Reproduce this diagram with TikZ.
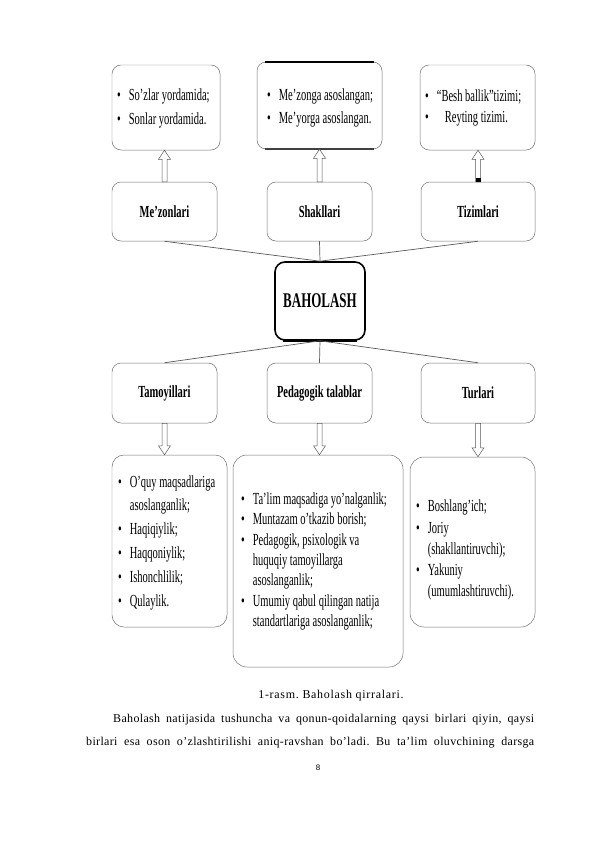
\documentclass[tikz,border=0pt]{standalone}
\usepackage{fontspec}
\setmainfont{Liberation Serif}
\newfontfamily\condfont[FakeStretch=0.62]{Liberation Serif}
\newfontfamily\bodyfont[LetterSpace=3]{Liberation Serif}
\newfontfamily\capfont[LetterSpace=6]{Liberation Serif}
\newfontfamily\pagefont{Liberation Sans}
\usepackage{tikz}
\usetikzlibrary{calc}
\frenchspacing

% bullet list inside a box
\newcommand{\itemlist}[2]{{\renewcommand{\arraystretch}{#1}%
  \begin{tabular}{@{}l@{\hspace{8bp}}l@{}}#2\end{tabular}}}
% hollow block arrow, tail #1, tip #2
\newcommand{\hollowarrow}[2]{%
  \draw[hollow] ($(#1)+(-2.5,0)$) -- ($(#2)!9bp!(#1)+(-2.5,0)$)
    -- ($(#2)!9bp!(#1)+(-6,0)$) -- (#2) -- ($(#2)!9bp!(#1)+(6,0)$)
    -- ($(#2)!9bp!(#1)+(2.5,0)$) -- ($(#1)+(2.5,0)$) -- cycle;}

\begin{document}
\begin{tikzpicture}[x=1bp,y=-1bp,
    box/.style={draw=black!55,line width=0.5pt,rounded corners=9bp,inner sep=0pt},
    head/.style={box,font=\condfont\bfseries\fontsize{17}{20}\selectfont},
    lst/.style={anchor=west,inner sep=0pt,font=\condfont\fontsize{17}{20}\selectfont},
    link/.style={draw=black!65,line width=0.7pt},
    hollow/.style={draw=black!65,line width=0.5pt,fill=white}]
  \useasboundingbox (0,0) rectangle (595,842);
  \fill[white] (0,0) rectangle (595,842);

  % Top boxes
  \node[box,minimum width=108bp,minimum height=85bp] (t1) at (166,107.5) {};
  \node[lst] (t1txt) at (117,108) {\itemlist{1.2}{\textbullet & So’zlar yordamida;\\ \textbullet & Sonlar yordamida.}};

  \node[box,minimum width=125bp,minimum height=87bp] (t2) at (319.5,105.5) {};
  \draw[line width=2pt] ([xshift=8bp]t2.north west) -- ([xshift=-8bp]t2.north east);
  \draw[line width=2.2pt,black!75] ([xshift=8bp]t2.south west) -- ([xshift=-8bp]t2.south east);
  \node[lst] (t2txt) at (267,107.5) {\itemlist{1.15}{\textbullet & Me’zonga asoslangan;\\ \textbullet & Me’yorga asoslangan.}};

  \node[box,minimum width=115bp,minimum height=85bp] (t3) at (477.5,107.5) {};
  \node[lst] (t3txt) at (425,107.5) {\itemlist{1.05}{\textbullet & “Besh ballik”tizimi;\\ \textbullet & \hspace{8bp}Reyting tizimi.}};

  % Middle row
  \node[head,minimum width=105bp,minimum height=59bp] (m1) at (164.5,211.5) {Me’zonlari};
  \node[head,minimum width=105bp,minimum height=59bp] (m2) at (319.5,211.5) {Shakllari};
  \node[head,minimum width=114bp,minimum height=59bp] (m3) at (478,211.5) {Tizimlari};

  \node[box,draw=black,line width=1.6pt,rounded corners=10bp,minimum width=90bp,minimum height=78bp,
    font=\condfont\bfseries\fontsize{21}{24}\selectfont] (bah) at (320,301) {BAHOLASH};
  \draw[line width=2.4pt] ([xshift=9bp]bah.south west) -- ([xshift=-9bp]bah.south east);

  \node[head,minimum width=105bp,minimum height=60bp] (p1) at (164.5,393) {Tamoyillari};
  \node[head,minimum width=105bp,minimum height=60bp] (p2) at (319.5,393) {Pedagogik talablar};
  \node[head,minimum width=114bp,minimum height=60bp] (p3) at (478,393) {Turlari};

  % Bottom boxes
  \node[box,minimum width=115bp,minimum height=172bp,rounded corners=12bp] (b1) at (169.5,541) {};
  \node[lst] (b1txt) at (118,542) {\itemlist{1.2}{\textbullet & O’quy maqsadlariga\\ & asoslanganlik;\\
    \textbullet & Haqiqiylik;\\ \textbullet & Haqqoniylik;\\ \textbullet & Ishonchlilik;\\ \textbullet & Qulaylik.}};

  \node[box,minimum width=170bp,minimum height=212bp,rounded corners=14bp] (b2) at (318,561) {};
  \node[lst] (b2txt) at (241,561.5) {\itemlist{1.02}{\textbullet & Ta’lim maqsadiga yo’nalganlik;\\
    \textbullet & Muntazam o’tkazib borish;\\ \textbullet & Pedagogik, psixologik va\\ & huquqiy tamoyillarga\\
    & asoslanganlik;\\ \textbullet & Umumiy qabul qilingan natija\\ & standartlariga asoslanganlik;}};

  \node[box,minimum width=125bp,minimum height=170bp,rounded corners=14bp] (b3) at (472.5,542) {};
  \node[lst] (b3txt) at (416,550) {\itemlist{1.06}{\textbullet & Boshlang’ich;\\ \textbullet & Joriy\\
    & (shakllantiruvchi);\\ \textbullet & Yakuniy\\ & (umumlashtiruvchi).}};

  % Links to BAHOLASH
  \draw[link] (m1.south) -- (bah.north);
  \draw[link] (m2.south) -- (bah.north);
  \draw[link] (m3.south) -- (bah.north);
  \draw[link] (bah.south) -- (p1.north);
  \draw[link] (bah.south) -- (p2.north);
  \draw[link] (bah.south) -- (p3.north);

  % Arrows
  \hollowarrow{m1.north}{m1.north |- t1.south}
  \hollowarrow{m2.north}{m2.north |- t2.south}
  \hollowarrow{m3.north}{m3.north |- t3.south}
  \fill[black] ($(m3.north)+(-2.5,0)$) rectangle ($(m3.north)+(2.5,-4)$);
  \hollowarrow{p1.south}{p1.south |- b1.north}
  \hollowarrow{p2.south}{p2.south |- b2.north}
  \hollowarrow{p3.south}{p3.south |- b3.north}

  % Caption and text
  \node[font=\capfont\fontsize{12}{14}\selectfont] (cap) at (331,696) {1-rasm. Baholash qirralari.};
  \node[anchor=west,inner sep=0pt,font=\bodyfont\fontsize{12}{14}\selectfont] (line1) at (113,720)
    {\makebox[421bp][s]{Baholash natijasida tushuncha va qonun-qoidalarning qaysi birlari qiyin, qaysi}};
  \node[anchor=west,inner sep=0pt,font=\bodyfont\fontsize{12}{14}\selectfont] (line2) at (86,743)
    {\makebox[448bp][s]{birlari esa oson o’zlashtirilishi aniq-ravshan bo’ladi. Bu ta’lim oluvchining darsga}};
  \node[font=\pagefont\fontsize{8}{10}\selectfont] (pnum) at (318,768) {8};
\end{tikzpicture}
\end{document}
